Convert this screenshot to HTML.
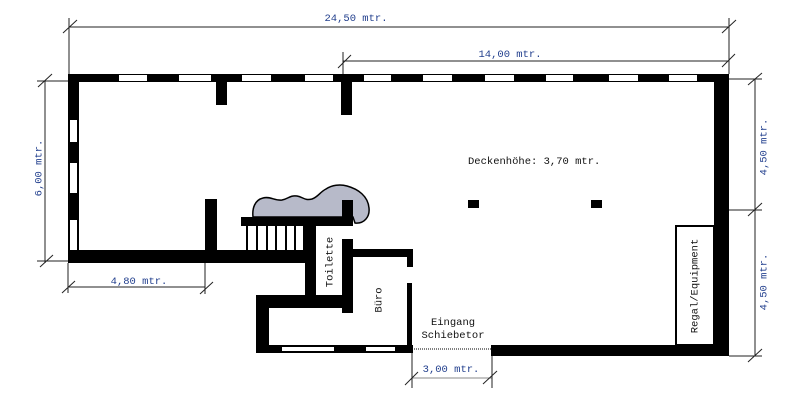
<!DOCTYPE html>
<html><head><meta charset="utf-8"><style>
html,body{margin:0;padding:0;background:#fff;}
svg{display:block;}
text{font-family:"Liberation Mono",monospace;font-size:10.5px;}
.b{fill:#23408e;}
.k{fill:#111;}
</style></head><body>
<svg width="800" height="400" viewBox="0 0 800 400" xmlns="http://www.w3.org/2000/svg">
<rect width="800" height="400" fill="#fff"/>
<!-- dimension lines -->
<g stroke="#222" stroke-width="1" fill="none">
  <!-- 24,50 -->
  <line x1="69" y1="27" x2="729" y2="27"/>
  <line x1="69" y1="18" x2="69" y2="74"/>
  <line x1="729" y1="18" x2="729" y2="74"/>
  <line x1="63" y1="33" x2="77" y2="20"/>
  <line x1="722" y1="33" x2="736" y2="20"/>
  <!-- 14,00 -->
  <line x1="343" y1="61" x2="729" y2="61"/>
  <line x1="343" y1="52" x2="343" y2="74"/>
  <line x1="338" y1="68" x2="351" y2="55"/>
  <line x1="722" y1="67" x2="735" y2="54"/>
  <!-- 6,00 -->
  <line x1="45" y1="81" x2="45" y2="263"/>
  <line x1="37" y1="81" x2="68" y2="81"/>
  <line x1="37" y1="261" x2="68" y2="261"/>
  <line x1="38" y1="87" x2="52" y2="74"/>
  <line x1="40" y1="267" x2="53" y2="255"/>
  <!-- 4,80 -->
  <line x1="68" y1="287" x2="205" y2="287"/>
  <line x1="68" y1="263" x2="68" y2="293"/>
  <line x1="205" y1="263" x2="205" y2="294"/>
  <line x1="62" y1="293" x2="75" y2="281"/>
  <line x1="200" y1="294" x2="213" y2="282"/>
  <!-- right 4,50 x2 -->
  <line x1="755" y1="79" x2="755" y2="356"/>
  <line x1="729" y1="79" x2="762" y2="79"/>
  <line x1="729" y1="210" x2="762" y2="210"/>
  <line x1="729" y1="356" x2="762" y2="356"/>
  <line x1="748" y1="85" x2="762" y2="73"/>
  <line x1="748" y1="216" x2="762" y2="203"/>
  <line x1="748" y1="362" x2="762" y2="349"/>
  <!-- 3,00 -->
  <line x1="412" y1="378" x2="492" y2="378" stroke="#888"/>
  <line x1="412" y1="353" x2="412" y2="388"/>
  <line x1="492" y1="355" x2="492" y2="388"/>
  <line x1="405" y1="385" x2="418" y2="372"/>
  <line x1="483" y1="384" x2="497" y2="371"/>
</g>

<!-- walls -->
<g fill="#000">
  <rect x="68" y="74" width="661" height="8"/>
  <rect x="68" y="74" width="11" height="189"/>
  <rect x="714" y="74" width="15" height="282"/>
  <rect x="216" y="82" width="11" height="23"/>
  <rect x="341" y="82" width="11" height="33"/>
  <rect x="68" y="250" width="238" height="13"/>
  <rect x="205" y="199" width="12" height="51"/>
  <rect x="491" y="345" width="238" height="11"/>
</g>
<!-- top windows -->
<g fill="#fff">
  <rect x="119" y="75" width="28" height="6"/>
  <rect x="179" y="75" width="32" height="6"/>
  <rect x="242" y="75" width="29" height="6"/>
  <rect x="305" y="75" width="28" height="6"/>
  <rect x="364" y="75" width="27" height="6"/>
  <rect x="423" y="75" width="29" height="6"/>
  <rect x="485" y="75" width="29" height="6"/>
  <rect x="546" y="75" width="27" height="6"/>
  <rect x="609" y="75" width="29" height="6"/>
  <rect x="669" y="75" width="28" height="6"/>
  <!-- left windows -->
  <rect x="70" y="120" width="7" height="22"/>
  <rect x="70" y="163" width="7" height="30"/>
  <rect x="70" y="220" width="7" height="30"/>
</g>

<!-- blob -->
<path d="M253,217 C252,208 255,200 263,198 C270,196 275,201 282,200 C288,199 290,195 297,196 C303,197 305,201 312,199 C318,197 320,192 326,189 C332,185 340,184 347,186 C358,189 368,196 369,208 C370,217 364,224 355,223 L353,217 Z" fill="#b7bac9" stroke="#000" stroke-width="1.5"/>
<g fill="#000">
  <rect x="241" y="217" width="112" height="9"/>
  <rect x="342" y="200" width="11" height="17"/>
  <!-- stairs -->
  <rect x="246" y="226" width="2" height="24"/>
  <rect x="256" y="226" width="2" height="24"/>
  <rect x="266" y="226" width="2" height="24"/>
  <rect x="275" y="226" width="2" height="24"/>
  <rect x="285" y="226" width="2" height="24"/>
  <rect x="294" y="226" width="2" height="24"/>
  <rect x="303" y="226" width="2" height="24"/>
  <!-- toilet / office -->
  <rect x="305" y="226" width="11" height="72"/>
  <rect x="256" y="295" width="97" height="13"/>
  <rect x="342" y="239" width="11" height="74"/>
  <rect x="353" y="249" width="60" height="8"/>
  <rect x="407" y="249" width="6" height="18"/>
  <rect x="407" y="283" width="5" height="70"/>
  <rect x="256" y="295" width="13" height="58"/>
  <rect x="256" y="345" width="157" height="8"/>
  <!-- pillars -->
  <rect x="468" y="200" width="11" height="8"/>
  <rect x="591" y="200" width="11" height="8"/>
</g>
<g fill="#fff">
  <rect x="282" y="347" width="52" height="4"/>
  <rect x="366" y="347" width="29" height="4"/>
</g>
<line x1="412" y1="349" x2="491" y2="349" stroke="#000" stroke-width="1" stroke-dasharray="1,1"/>
<!-- regal box -->
<rect x="676" y="226" width="38" height="119" fill="#fff" stroke="#000" stroke-width="2"/>

<!-- texts -->
<text class="b" x="356" y="21" text-anchor="middle">24,50 mtr.</text>
<text class="b" x="510" y="57" text-anchor="middle">14,00 mtr.</text>
<text class="b" x="139" y="284" text-anchor="middle">4,80 mtr.</text>
<text class="b" x="451" y="372" text-anchor="middle">3,00 mtr.</text>
<text class="b" transform="translate(38,168) rotate(-90)" text-anchor="middle" dy="0.35em">6,00 mtr.</text>
<text class="b" transform="translate(763,147) rotate(-90)" text-anchor="middle" dy="0.35em">4,50 mtr.</text>
<text class="b" transform="translate(763,282) rotate(-90)" text-anchor="middle" dy="0.35em">4,50 mtr.</text>
<text class="k" x="468" y="164">Deckenhöhe: 3,70 mtr.</text>
<text class="k" x="453" y="325" text-anchor="middle">Eingang</text>
<text class="k" x="453" y="338" text-anchor="middle">Schiebetor</text>
<text class="k" transform="translate(329,262) rotate(-90)" text-anchor="middle" dy="0.35em">Toilette</text>
<text class="k" transform="translate(378,300) rotate(-90)" text-anchor="middle" dy="0.35em">Büro</text>
<text class="k" transform="translate(694,286) rotate(-90)" text-anchor="middle" dy="0.35em">Regal/Equipment</text>
</svg>
</body></html>
